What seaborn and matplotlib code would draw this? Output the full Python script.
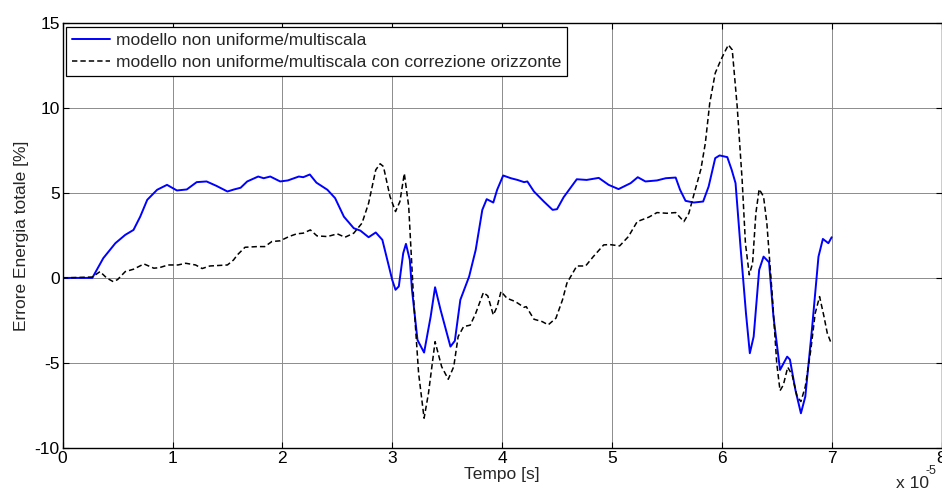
import numpy as np
import pandas as pd
import matplotlib
matplotlib.use("Agg")
import matplotlib.pyplot as plt
import seaborn as sns

# Time axis in units of 1e-5 s, energy error in percent
t_multi = [0, 0.27, 0.37, 0.48, 0.57, 0.645, 0.706, 0.77, 0.86, 0.95, 1.04, 1.13, 1.22, 1.31,
           1.40, 1.50, 1.56, 1.62, 1.68, 1.78, 1.83, 1.89, 1.98, 2.05, 2.15, 2.19, 2.25, 2.31,
           2.41, 2.48, 2.56, 2.65, 2.71, 2.785, 2.85, 2.91, 2.97, 3.00, 3.03, 3.06, 3.10, 3.125,
           3.16, 3.18, 3.23, 3.29, 3.35, 3.39, 3.44, 3.53, 3.57, 3.62, 3.70, 3.76, 3.82, 3.86,
           3.92, 3.955, 4.01, 4.08, 4.14, 4.20, 4.23, 4.29, 4.38, 4.46, 4.50, 4.56, 4.62, 4.68,
           4.77, 4.88, 4.97, 5.06, 5.17, 5.235, 5.305, 5.41, 5.49, 5.58, 5.62, 5.67, 5.745, 5.83,
           5.88, 5.94, 5.98, 6.05, 6.09, 6.125, 6.17, 6.22, 6.255, 6.29, 6.34, 6.38, 6.43, 6.47,
           6.53, 6.595, 6.62, 6.67, 6.72, 6.76, 6.82, 6.88, 6.92, 6.97, 7.0]
e_multi = [0, 0, 1.16, 2.04, 2.53, 2.82, 3.6, 4.59, 5.18, 5.47, 5.14, 5.2, 5.63, 5.67,
           5.41, 5.08, 5.2, 5.3, 5.67, 5.96, 5.86, 5.96, 5.67, 5.73, 5.96, 5.92, 6.08, 5.6,
           5.18, 4.69, 3.6, 2.92, 2.78, 2.39, 2.67, 2.24, 0.67, -0.12, -0.7, -0.5, 1.45, 2.0,
           1.06, -0.7, -3.65, -4.39, -2.27, -0.55, -1.88, -4.04, -3.7, -1.29, 0.08, 1.65, 4.0, 4.63,
           4.43, 5.18, 6.02, 5.86, 5.76, 5.63, 5.67, 5.08, 4.49, 4.0, 4.04, 4.74, 5.27, 5.8,
           5.76, 5.88, 5.47, 5.22, 5.57, 5.92, 5.67, 5.73, 5.86, 5.9, 5.18, 4.53, 4.43, 4.49,
           5.37, 7.04, 7.2, 7.1, 6.35, 5.57, 1.84, -2.08, -4.43, -3.45, 0.47, 1.25, 0.92, -2.27,
           -5.41, -4.63, -4.8, -6.59, -7.96, -6.98, -3.06, 1.25, 2.29, 2.04, 2.39]

t_corr = [0, 0.27, 0.34, 0.40, 0.46, 0.50, 0.57, 0.645, 0.74, 0.83, 0.88, 0.96, 1.05, 1.12,
          1.21, 1.27, 1.34, 1.50, 1.555, 1.59, 1.66, 1.77, 1.84, 1.905, 1.98, 2.06, 2.13, 2.19,
          2.255, 2.315, 2.41, 2.50, 2.57, 2.65, 2.725, 2.785, 2.85, 2.89, 2.92, 2.98, 3.03, 3.07,
          3.11, 3.15, 3.195, 3.24, 3.29, 3.33, 3.39, 3.45, 3.51, 3.56, 3.60, 3.65, 3.71, 3.76,
          3.83, 3.87, 3.92, 3.955, 3.99, 4.045, 4.12, 4.20, 4.22, 4.29, 4.365, 4.42, 4.49, 4.55,
          4.59, 4.68, 4.76, 4.83, 4.925, 4.98, 5.07, 5.15, 5.23, 5.335, 5.41, 5.50, 5.58, 5.655,
          5.70, 5.745, 5.81, 5.85, 5.89, 5.94, 5.985, 6.02, 6.06, 6.095, 6.14, 6.185, 6.215, 6.25,
          6.28, 6.31, 6.34, 6.38, 6.41, 6.46, 6.50, 6.53, 6.56, 6.60, 6.64, 6.685, 6.72, 6.76,
          6.81, 6.85, 6.89, 6.93, 6.96, 6.99]
e_corr = [0, 0.05, 0.37, 0.0, -0.22, -0.1, 0.37, 0.51, 0.82, 0.57, 0.6, 0.76, 0.76, 0.86,
          0.76, 0.55, 0.7, 0.76, 1.05, 1.35, 1.8, 1.84, 1.84, 2.14, 2.18, 2.43, 2.59, 2.63,
          2.82, 2.47, 2.43, 2.59, 2.39, 2.63, 3.22, 4.39, 6.35, 6.71, 6.55, 4.78, 3.9, 4.49,
          6.14, 4.2, -1.29, -5.6, -8.25, -6.78, -3.75, -5.22, -5.96, -5.22, -3.45, -2.86, -2.78, -2.08,
          -0.86, -1.06, -2.18, -1.69, -0.8, -1.2, -1.39, -1.73, -1.69, -2.43, -2.57, -2.76, -2.37, -1.29,
          -0.31, 0.7, 0.7, 1.25, 1.94, 1.96, 1.88, 2.43, 3.31, 3.57, 3.84, 3.8, 3.84, 3.31,
          3.8, 4.88, 6.4, 7.92, 10.27, 12.04, 12.72, 13.2, 13.7, 13.41, 10.08, 5.76, 2.04, 0.18,
          0.86, 3.8, 5.22, 4.78, 3.22, -1.1, -5.02, -6.63, -6.3, -5.25, -5.7, -6.98, -7.27, -6.39,
          -4.24, -2.08, -1.1, -2.27, -3.25, -3.75]

label_multi = "modello non uniforme/multiscala"
label_corr = "modello non uniforme/multiscala con correzione orizzonte"

x_ticks = [0, 1, 2, 3, 4, 5, 6, 7, 8]
y_ticks = [-10, -5, 0, 5, 10, 15]

sns.set_theme(style="white")
plt.rcParams["font.family"] = ["Liberation Sans", "DejaVu Sans"]
plt.rcParams["font.size"] = 12.5

df_multi = pd.DataFrame({"t": t_multi, "e": e_multi})
df_corr = pd.DataFrame({"t": t_corr, "e": e_corr})

fig = plt.figure(figsize=(9.42, 4.95), dpi=100)
ax = fig.add_axes([0.0665, 0.095, 0.933, 0.859])

sns.lineplot(data=df_multi, x="t", y="e", ax=ax, color="#0000ff", linewidth=1.4,
             label=label_multi, sort=False)
sns.lineplot(data=df_corr, x="t", y="e", ax=ax, color="black", linewidth=1.1,
             label=label_corr, sort=False)
ax.lines[1].set_dashes([3.5, 2.0])

ax.set_xlim(0, 8)
ax.set_ylim(-10, 15)
ax.set_xticks(x_ticks)
ax.set_yticks(y_ticks)
ax.set_xticklabels([str(v) for v in x_ticks], fontsize=12.5)
ax.set_yticklabels([str(v) for v in y_ticks], fontsize=12.5)
ax.grid(True, color="#8c8c8c", linewidth=0.7, linestyle="-")
ax.set_axisbelow(True)
ax.tick_params(direction="in", length=4, width=0.8, top=True, right=True,
               bottom=True, left=True, colors="black", labelcolor="black", pad=2)
for sp in ax.spines.values():
    sp.set_color("black")
    sp.set_linewidth(1.0)

ax.set_xlabel("Tempo [s]", fontsize=12.5, labelpad=1)
ax.set_ylabel("Errore Energia totale [%]", fontsize=12.5, labelpad=4)

# exponent of the time axis, written below the right end of the axis
fig.text(0.951, 0.008, "x 10", fontsize=12.5, ha="left", va="bottom")
fig.text(0.983, 0.036, "-5", fontsize=9, ha="left", va="bottom")

leg = ax.legend(loc="upper left", bbox_to_anchor=(0.004, 0.99), fontsize=12.5,
                frameon=True, fancybox=False, shadow=False, borderpad=0.35,
                labelspacing=0.38, handlelength=2.2, handletextpad=0.3, borderaxespad=0.0)
leg.get_frame().set_edgecolor("black")
leg.get_frame().set_linewidth(0.9)
leg.get_frame().set_alpha(1.0)

fig.savefig("out.png", dpi=100, facecolor="white")
